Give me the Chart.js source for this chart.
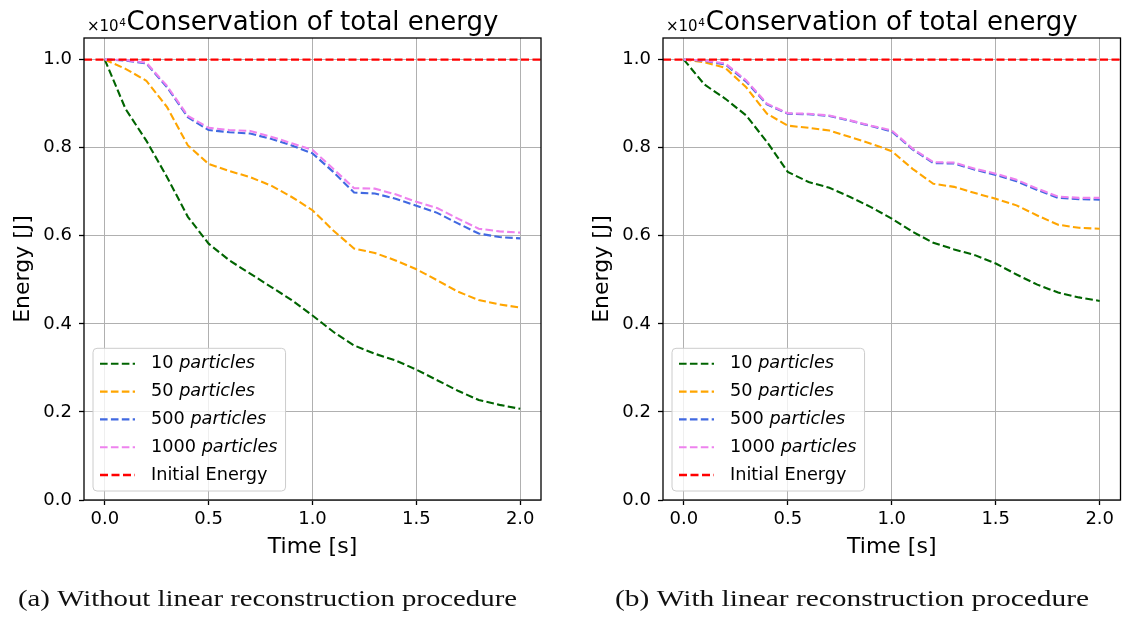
<!DOCTYPE html>
<html><head><meta charset="utf-8">
<script src="https://cdn.jsdelivr.net/npm/chart.js@4.4.1/dist/chart.umd.min.js"></script>
<style>
html,body{margin:0;padding:0;background:#fff;width:1122px;height:618px;overflow:hidden;}
#wrap{position:relative;width:1122px;height:618px;}
canvas{position:absolute;top:0;}
#cA{left:0;} #cB{left:561px;}
</style></head>
<body>
<div id="wrap">
<canvas id="cA" width="561" height="618"></canvas>
<canvas id="cB" width="561" height="618"></canvas>
</div>
<script>
// ---------- data (energy in units of 10^4 J) ----------
const time = [0.0,0.1,0.2,0.3,0.4,0.5,0.6,0.7,0.8,0.9,1.0,1.1,1.2,1.3,1.4,1.5,1.6,1.7,1.8,1.9,2.0];
const particleCounts = [10, 50, 500, 1000];
const initialEnergy = 1.0;

// (a) without linear reconstruction
const noRecon10   = [1.0,0.888,0.816,0.733,0.643,0.582,0.544,0.514,0.484,0.454,0.419,0.382,0.351,0.332,0.317,0.296,0.272,0.248,0.227,0.216,0.207];
const noRecon50   = [1.0,0.979,0.952,0.892,0.805,0.763,0.747,0.733,0.714,0.688,0.658,0.612,0.571,0.561,0.544,0.524,0.499,0.473,0.454,0.444,0.437];
const noRecon500  = [1.0,0.998,0.991,0.937,0.869,0.840,0.835,0.832,0.820,0.805,0.787,0.745,0.698,0.696,0.684,0.668,0.652,0.628,0.605,0.597,0.594];
const noRecon1000 = [1.0,0.999,0.993,0.940,0.872,0.845,0.840,0.838,0.825,0.810,0.795,0.752,0.708,0.707,0.694,0.677,0.663,0.639,0.616,0.610,0.607];

// (b) with linear reconstruction
const recon10   = [1.0,0.943,0.911,0.873,0.813,0.745,0.722,0.709,0.688,0.665,0.639,0.609,0.584,0.569,0.556,0.537,0.512,0.489,0.471,0.460,0.452];
const recon50   = [1.0,0.994,0.981,0.937,0.877,0.850,0.845,0.839,0.824,0.809,0.792,0.752,0.718,0.711,0.697,0.684,0.669,0.646,0.625,0.618,0.616];
const recon500  = [1.0,0.997,0.989,0.950,0.898,0.877,0.876,0.872,0.861,0.849,0.837,0.796,0.765,0.764,0.750,0.738,0.724,0.704,0.686,0.683,0.682];
const recon1000 = [1.0,0.998,0.991,0.953,0.900,0.878,0.877,0.873,0.862,0.850,0.839,0.798,0.767,0.766,0.752,0.741,0.727,0.707,0.689,0.686,0.686];

const xTicks = [0.0, 0.5, 1.0, 1.5, 2.0];
const xTickLabels = ['0.0','0.5','1.0','1.5','2.0'];
const yTicks = [0.0, 0.2, 0.4, 0.6, 0.8, 1.0];
const yTickLabels = ['0.0','0.2','0.4','0.6','0.8','1.0'];
const xLimits = [-0.1, 2.1];
const yLimits = [0.0, 1.049];

const titleText = 'Conservation of total energy';
const xTitle = 'Time [s]';
const yTitle = 'Energy [J]';
const captionA = '(a) Without linear reconstruction procedure';
const captionB = '(b) With linear reconstruction procedure';

// ---------- styling ----------
const seriesColors = ['#006400', '#ffa500', '#4169e1', '#ee82ee'];
const FONT = "'DejaVu Sans', sans-serif";

function buildDatasets(series) {
  const ds = series.map((vals, i) => ({
    label: particleCounts[i] + ' particles',
    legendParts: [[particleCounts[i] + ' ', false], ['particles', true]],
    data: time.map((t, j) => ({x: t, y: vals[j]})),
    borderColor: seriesColors[i],
    backgroundColor: seriesColors[i],
    borderWidth: 2.1,
    borderDash: [7.6, 3.3],
    pointRadius: 0,
    tension: 0,
    fill: false,
    order: 5 - i
  }));
  ds.push({
    label: 'Initial Energy',
    legendParts: [['Initial Energy', false]],
    data: [{x: xLimits[0], y: initialEnergy}, {x: xLimits[1], y: initialEnergy}],
    borderColor: '#ff0000',
    backgroundColor: '#ff0000',
    borderWidth: 2.3,
    borderDash: [8, 3.5],
    pointRadius: 0,
    fill: false,
    order: 0
  });
  return ds;
}

function roundRect(ctx, x, y, w, h, r) {
  ctx.beginPath();
  ctx.moveTo(x + r, y);
  ctx.lineTo(x + w - r, y); ctx.arcTo(x + w, y, x + w, y + r, r);
  ctx.lineTo(x + w, y + h - r); ctx.arcTo(x + w, y + h, x + w - r, y + h, r);
  ctx.lineTo(x + r, y + h); ctx.arcTo(x, y + h, x, y + h - r, r);
  ctx.lineTo(x, y + r); ctx.arcTo(x, y, x + r, y, r);
  ctx.closePath();
}

const decorPlugin = {
  id: 'decor',
  afterDatasetsDraw(chart) {
    const {ctx, chartArea: ca} = chart;
    ctx.save();
    // frame
    ctx.strokeStyle = '#000';
    ctx.lineWidth = 1.3;
    ctx.setLineDash([]);
    ctx.strokeRect(ca.left, ca.top, ca.right - ca.left, ca.bottom - ca.top);

    // legend
    const fs = 17.7;
    const rowH = 27.8;
    const padTop = 15.5;
    const items = chart.data.datasets;
    let maxW = 0;
    items.forEach(d => {
      let w = 0;
      d.legendParts.forEach(([txt, it]) => {
        ctx.font = (it ? 'oblique ' : '') + fs + 'px ' + FONT;
        w += ctx.measureText(txt).width;
      });
      maxW = Math.max(maxW, w);
    });
    const bw = 58 + maxW + 8;
    const bh = padTop * 2 + rowH * (items.length - 1) + 0.5;
    const bx = ca.left + 9;
    const by = ca.bottom - 9 - bh;
    roundRect(ctx, bx, by, bw, bh, 4);
    ctx.fillStyle = 'rgba(255,255,255,0.8)';
    ctx.fill();
    ctx.strokeStyle = '#cccccc';
    ctx.lineWidth = 1;
    ctx.stroke();
    items.forEach((d, i) => {
      const cy = by + padTop + i * rowH;
      ctx.beginPath();
      ctx.strokeStyle = d.borderColor;
      ctx.lineWidth = d.borderWidth;
      ctx.setLineDash(d.borderDash);
      ctx.moveTo(bx + 7, cy);
      ctx.lineTo(bx + 42, cy);
      ctx.stroke();
      ctx.setLineDash([]);
      let tx = bx + 58;
      ctx.fillStyle = '#000';
      ctx.textBaseline = 'middle';
      ctx.textAlign = 'left';
      d.legendParts.forEach(([txt, it]) => {
        ctx.font = (it ? 'oblique ' : '') + fs + 'px ' + FONT;
        ctx.fillText(txt, tx, cy);
        tx += ctx.measureText(txt).width;
      });
    });
    ctx.restore();
  },
  afterDraw(chart) {
    const {ctx, chartArea: ca} = chart;
    const o = chart.options.plugins.decor;
    ctx.save();
    ctx.fillStyle = '#000';
    ctx.textBaseline = 'alphabetic';
    // title
    ctx.textAlign = 'center';
    ctx.font = '26px ' + FONT;
    ctx.fillText(titleText, (ca.left + ca.right) / 2, 30);
    // offset text x10^4
    ctx.textAlign = 'left';
    ctx.font = '15px ' + FONT;
    const base = '\u00d710';
    ctx.fillText(base, ca.left + 3, 31);
    const bwid = ctx.measureText(base).width;
    ctx.font = '10.5px ' + FONT;
    ctx.fillText('4', ca.left + 3 + bwid + 0.5, 25.5);
    // caption
    ctx.font = '24px "Liberation Serif", "DejaVu Serif", serif';
    ctx.fillStyle = '#111';
    const w = ctx.measureText(o.caption).width;
    const sx = o.capWidth / w;
    ctx.translate(o.capCenter, 606);
    ctx.scale(sx, 1);
    ctx.textAlign = 'center';
    ctx.fillText(o.caption, 0, 0);
    ctx.restore();
  }
};

function makeChart(id, series, padLeft, padRight, caption, capCenter, capWidth) {
  return new Chart(document.getElementById(id), {
    type: 'line',
    data: {datasets: buildDatasets(series)},
    plugins: [decorPlugin],
    options: {
      responsive: false,
      animation: false,
      devicePixelRatio: 1,
      layout: {padding: {top: 38, right: padRight, bottom: 48, left: padLeft}},
      plugins: {
        legend: {display: false},
        tooltip: {enabled: false},
        title: {display: false},
        decor: {caption, capCenter, capWidth}
      },
      scales: {
        x: {
          type: 'linear',
          min: xLimits[0], max: xLimits[1],
          afterBuildTicks: s => { s.ticks = xTicks.map(v => ({value: v})); },
          afterFit: s => { s.height = 70; s.paddingLeft = 0; s.paddingRight = 0; },
          ticks: {
            callback: (v, i) => xTickLabels[i],
            font: {family: FONT, size: 18}, color: '#000',
            padding: 4, maxRotation: 0, autoSkip: false
          },
          grid: {color: '#b0b0b0', lineWidth: 1, tickColor: '#000', tickLength: 5, tickWidth: 1.3},
          border: {display: false},
          title: {display: true, text: xTitle, color: '#000', font: {family: FONT, size: 22}, padding: {top: 0, bottom: 10}}
        },
        y: {
          type: 'linear',
          min: yLimits[0], max: yLimits[1],
          afterBuildTicks: s => { s.ticks = yTicks.map(v => ({value: v})); },
          afterFit: s => { s.width = 84; s.paddingTop = 0; s.paddingBottom = 0; },
          ticks: {
            callback: (v, i) => yTickLabels[i],
            font: {family: FONT, size: 18}, color: '#000',
            padding: 7, autoSkip: false
          },
          grid: {color: '#b0b0b0', lineWidth: 1, tickColor: '#000', tickLength: 5, tickWidth: 1.3},
          border: {display: false},
          title: {display: true, text: yTitle, color: '#000', font: {family: FONT, size: 22}, padding: {top: 10, bottom: 0}}
        }
      }
    }
  });
}

makeChart('cA', [noRecon10, noRecon50, noRecon500, noRecon1000], 0, 20, captionA, 267.5, 499);
makeChart('cB', [recon10, recon50, recon500, recon1000], 18, 1.5, captionB, 291, 474);
</script>
</body></html>
